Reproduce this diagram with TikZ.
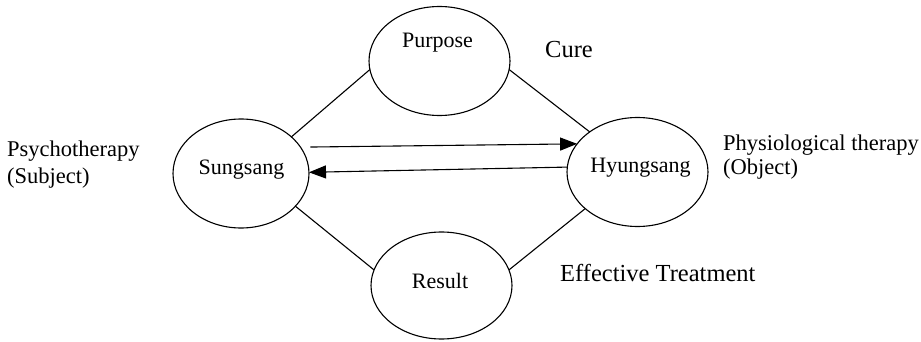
\documentclass[tikz,border=0pt]{standalone}
\usepackage{fontspec}
\setmainfont{Liberation Serif}
\usetikzlibrary{shapes.geometric,arrows.meta}
\begin{document}
\begin{tikzpicture}[x=1pt,y=-1pt,
  blob/.style={draw,ellipse,line width=1.1pt,inner sep=0pt,outer sep=0pt,
    minimum width=141pt,minimum height=109pt},
  link/.style={line width=1.1pt},
  flow/.style={line width=1.1pt,-{Triangle[length=17pt,width=13pt]}},
  word/.style={inner sep=0pt,anchor=base,font=\fontsize{22}{26}\selectfont},
  side/.style={inner sep=0pt,anchor=base west,font=\fontsize{22.5}{26}\selectfont},
  big/.style={inner sep=0pt,anchor=base west,font=\fontsize{24.5}{28}\selectfont}]
  \useasboundingbox (0,0) rectangle (921,342);

  % the four ellipses
  \node[blob] (pur) at (439.5,61) {};
  \node[blob,minimum width=136pt] (sun) at (241,173.5) {};
  \node[blob] (hyu) at (637.5,172) {};
  \node[blob,minimum height=107pt] (res) at (441.5,285.5) {};

  % their captions
  \node[word] (purT) at (437.5,48) {Purpose};
  \node[word] (sunT) at (241.5,175) {Sungsang};
  \node[word] (hyuT) at (640.5,172) {Hyungsang};
  \node[word] (resT) at (440,288) {Result};

  % the diamond of links
  \draw[link] (sun.36.5) -- (pur.187.3);
  \draw[link] (pur.-7.3) -- (hyu.140.3);
  \draw[link] (sun.-31.6) -- (res.167.3);
  \draw[link] (hyu.-145.6) -- (res.13.1);

  % the two arrows between the middle ellipses
  \coordinate (upStart) at ([xshift=10pt]sun.24.2);
  \draw[flow] (upStart) -- (hyu.155.1);
  \draw[flow] (hyu.176.8) -- (sun.1.3);

  % outer labels
  \node[side] (psy1) at (7,157) {Psychotherapy};
  \node[side] (psy2) at (7,183) {(Subject)};
  \node[side] (phy1) at (723,150) {Physiological therapy};
  \node[side] (phy2) at (723,175) {(Object)};
  \node[big] (cure) at (545,58) {Cure};
  \node[big] (eff) at (560,281) {Effective Treatment};
\end{tikzpicture}
\end{document}
